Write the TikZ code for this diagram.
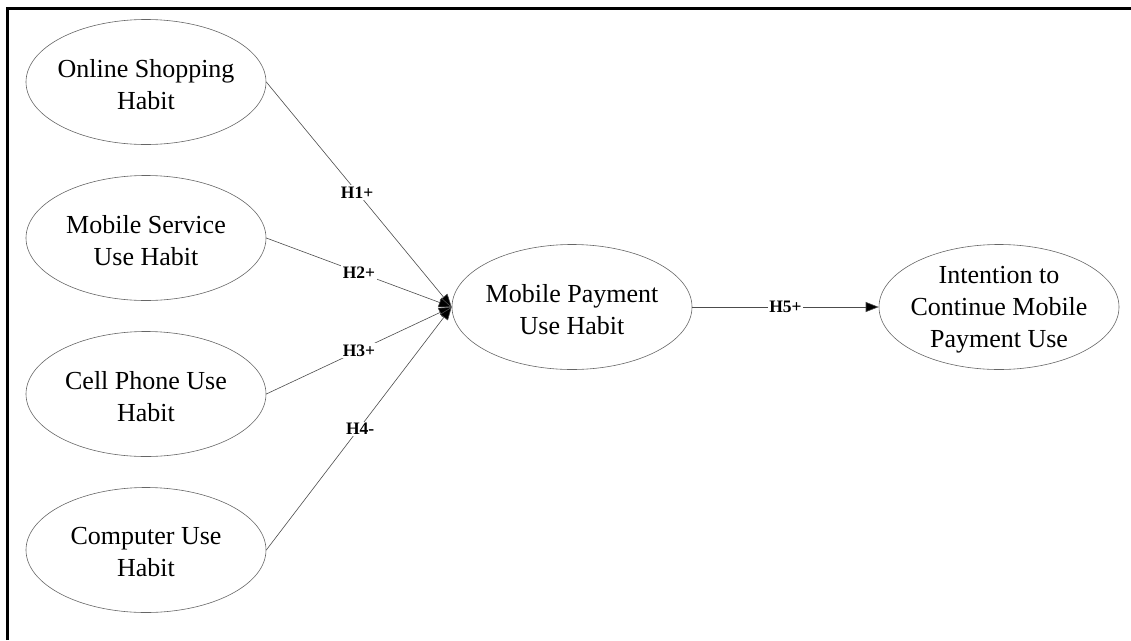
\documentclass[tikz,border=0pt]{standalone}
\usepackage{fontspec}
\setmainfont{Liberation Serif}
\usetikzlibrary{shapes.geometric,arrows.meta}
\begin{document}
\begin{tikzpicture}[x=1pt,y=-1pt,
  construct/.style={ellipse,draw=black!60,line width=0.6pt,inner sep=0pt,
    minimum width=240pt,minimum height=125pt,
    label={[align=center,inner sep=0pt,yshift=-2.5pt,font=\fontsize{26}{32}\selectfont]center:#1}},
  path/.style={draw=black!70,line width=0.6pt,-{Triangle[length=13pt,width=10pt,fill=black]}},
  hyp/.style={fill=white,inner sep=1.5pt,font=\fontsize{17.5}{19}\selectfont\bfseries}]
  \useasboundingbox (0,0) rectangle (1131,640);
  % frame on the left and top edges
  \draw[line width=3pt] (7,640) -- (7,8) -- (1131,8);
  % predictor constructs
  \node[construct={Online Shopping\\Habit}] (osh) at (146,82) {};
  \node[construct={Mobile Service\\Use Habit}] (msu) at (146,238) {};
  \node[construct={Cell Phone Use\\Habit}] (cpu) at (146,394) {};
  \node[construct={Computer Use\\Habit}] (cmp) at (146,550) {};
  % mediating and outcome constructs
  \node[construct={Mobile Payment\\Use Habit}] (mpu) at (572,307) {};
  \node[construct={Intention to\\Continue Mobile\\Payment Use}] (icm) at (999,307) {};
  % hypothesised paths
  \draw[path] (osh.east) -- node[hyp,pos=0.49] {H1+} (mpu.west);
  \draw[path] (msu.east) -- node[hyp,pos=0.5] {H2+} (mpu.west);
  \draw[path] (cpu.east) -- node[hyp,pos=0.5] {H3+} (mpu.west);
  \draw[path] (cmp.east) -- node[hyp,pos=0.49,xshift=3pt,yshift=2pt] {H4-} (mpu.west);
  \draw[path] (mpu.east) -- node[hyp] {H5+} (icm.west);
\end{tikzpicture}
\end{document}
